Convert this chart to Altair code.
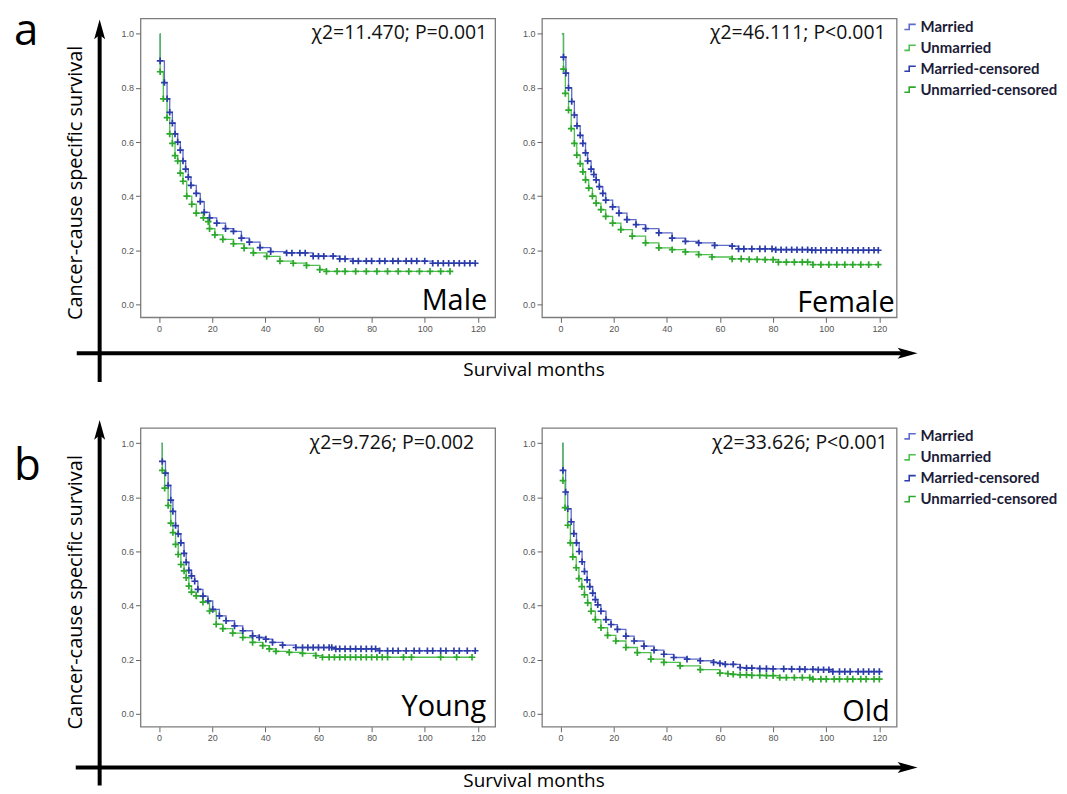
import altair as alt
import pandas as pd

# ---------------- data ----------------
SERIES = ["Married", "Unmarried", "Married-censored", "Unmarried-censored"]
COLORS = ["#5d6bc9", "#4fc04f", "#2b3ba9", "#2ca82c"]
PANEL_NAMES = ["Male", "Female", "Young", "Old"]
PANEL_STATS = ["χ2=11.470; P=0.001", "χ2=46.111; P<0.001", "χ2=9.726; P=0.002", "χ2=33.626; P<0.001"]
ROW_LETTERS = ["a", "b"]
Y_TITLE = "Cancer-cause specific survival"
X_TITLE = "Survival months"
X_TICKS = [0, 20, 40, 60, 80, 100, 120]
Y_TICKS = [0.0, 0.2, 0.4, 0.6, 0.8, 1.0]

male_married_months = [0.3, 0.4, 2, 3, 4, 5, 6, 7, 8, 9, 10, 11, 12, 14, 15.5, 17, 19, 21.7, 25, 28,
                       31, 34, 38, 42,
                       48, 50, 53, 55, 58, 60, 62, 65.5, 68, 70,
                       73, 75, 78, 80, 83, 85, 88, 90, 93, 95, 97, 100,
                       103, 105, 107, 109, 111, 113, 115, 117, 119]
male_married_surv = [1.0, 0.90, 0.82, 0.76, 0.71, 0.67, 0.63, 0.60, 0.57, 0.53, 0.50, 0.47, 0.44, 0.41, 0.38, 0.34,
                     0.32, 0.30, 0.28, 0.27, 0.245, 0.23, 0.21, 0.195,
                     0.19, 0.19, 0.19, 0.19, 0.178, 0.178, 0.178, 0.178, 0.168, 0.168,
                     0.16, 0.16, 0.16, 0.16, 0.16, 0.16, 0.16, 0.16, 0.16, 0.16, 0.16, 0.16,
                     0.152, 0.152, 0.152, 0.152, 0.152, 0.152, 0.152, 0.152, 0.152]
male_unmarried_months = [0.3, 0.4, 1.6, 3, 4, 5, 6, 7, 8, 9, 10.4, 12.3, 14, 16.7, 18.5, 19, 21, 24, 28, 32,
                         35.5, 40.5, 45.5, 50.5, 55.5, 60.5,
                         63, 67, 70, 74, 78, 82, 86, 90, 94, 98, 102, 106, 109.5]
male_unmarried_surv = [1.0, 0.86, 0.76, 0.69, 0.63, 0.595, 0.55, 0.53, 0.485, 0.455, 0.40, 0.37, 0.337, 0.32,
                       0.306, 0.28, 0.257, 0.24, 0.224, 0.208, 0.19, 0.177, 0.16, 0.152, 0.144, 0.128,
                       0.122, 0.122, 0.122, 0.122, 0.122, 0.122, 0.122, 0.122, 0.122, 0.122, 0.122, 0.122, 0.122]

female_married_months = [0.5, 1.1, 2, 3, 4.2, 5.2, 6.2, 7.4, 8.4, 9.4, 10.2, 11.5, 12.5, 13.4, 14.6, 15.9, 17,
                         19.6, 22, 25, 28.4, 32, 37, 42, 47, 52, 58,
                         64.6, 67, 69, 72, 75, 77, 79.6,
                         81, 83, 85, 87, 89, 91, 93,
                         94.6, 96, 98, 100, 102, 104, 106, 108, 110, 112, 114, 116, 118, 119.6]
female_married_surv = [1.0, 0.914, 0.855, 0.80, 0.75, 0.70, 0.66, 0.625, 0.595, 0.56, 0.53, 0.50, 0.48, 0.46,
                       0.435, 0.41, 0.385, 0.36, 0.337, 0.313, 0.295, 0.28, 0.264, 0.245, 0.233, 0.227, 0.218,
                       0.215, 0.205, 0.205, 0.205, 0.205, 0.205, 0.205,
                       0.202, 0.202, 0.202, 0.202, 0.202, 0.202, 0.202,
                       0.20, 0.20, 0.20, 0.20, 0.20, 0.20, 0.20, 0.20, 0.20, 0.20, 0.20, 0.20, 0.20, 0.20]
female_unmarried_months = [0.5, 1.1, 1.8, 3, 4, 5.2, 6.1, 7.4, 8.4, 9.4, 10.6, 12, 13.4, 15.2, 17, 19.6, 22.7,
                           27, 32, 37, 42, 47, 52, 57,
                           64.6, 68, 71, 74, 77, 80, 82, 85, 88, 91, 93,
                           95, 98, 101, 104, 107, 110, 113, 116, 119.6]
female_unmarried_surv = [1.0, 0.87, 0.78, 0.718, 0.65, 0.595, 0.552, 0.52, 0.49, 0.46, 0.43, 0.40, 0.374, 0.35,
                         0.325, 0.30, 0.276, 0.252, 0.227, 0.209, 0.202, 0.194, 0.184, 0.175,
                         0.168, 0.168, 0.166, 0.166, 0.165, 0.165, 0.156, 0.156, 0.156, 0.156, 0.156,
                         0.147, 0.147, 0.147, 0.147, 0.147, 0.147, 0.147, 0.147, 0.147]

young_married_months = [0.9, 1.2, 2.4, 3.4, 4.4, 5.2, 6.2, 7.2, 8.2, 9.4, 10.2, 11.2, 12.2, 13.4, 14.6, 16.5,
                        18.4, 20.2, 22.7, 25.2, 28.4, 31.5, 35.2, 37.7, 40.2, 42.7, 46.5, 51.5,
                        54, 56, 58, 60, 62, 64, 65,
                        66.5, 68, 70, 72, 74, 76, 78, 80, 81.5,
                        83, 86, 88, 90, 93, 96, 98, 101, 103, 106, 108, 111, 113, 116, 119]
young_married_surv = [1.0, 0.933, 0.89, 0.844, 0.79, 0.748, 0.696, 0.665, 0.632, 0.593, 0.56, 0.53, 0.51, 0.49,
                      0.46, 0.435, 0.417, 0.386, 0.362, 0.344, 0.325, 0.307, 0.288, 0.282, 0.276, 0.264, 0.254,
                      0.245,
                      0.245, 0.245, 0.245, 0.245, 0.245, 0.245, 0.245,
                      0.24, 0.24, 0.24, 0.24, 0.24, 0.24, 0.24, 0.24, 0.24,
                      0.233, 0.233, 0.233, 0.233, 0.233, 0.233, 0.233, 0.233, 0.233, 0.233, 0.233, 0.233, 0.233,
                      0.233, 0.233]
young_unmarried_months = [0.9, 1.2, 2.1, 3.4, 4.4, 5.2, 6.2, 7.2, 8.2, 9.4, 10.2, 11.2, 12.2, 14, 16.5, 19,
                          21.5, 24, 27.7, 31.5, 35.2, 39, 41.5, 44, 49, 54, 59,
                          61.5, 64, 66, 68, 70, 72, 74, 76, 78, 80, 82, 84, 86, 92, 95, 106, 112, 117.8]
young_unmarried_surv = [1.0, 0.90, 0.834, 0.77, 0.705, 0.67, 0.626, 0.589, 0.552, 0.528, 0.503, 0.472, 0.45,
                        0.436, 0.413, 0.38, 0.331, 0.315, 0.298, 0.282, 0.264, 0.252, 0.24, 0.231, 0.227, 0.223,
                        0.215,
                        0.209, 0.209, 0.209, 0.209, 0.209, 0.209, 0.209, 0.209, 0.209, 0.209, 0.209, 0.209,
                        0.209, 0.209, 0.209, 0.209, 0.209, 0.209]

old_married_months = [0.6, 0.9, 1.9, 2.7, 4, 5, 6, 7, 8.1, 9, 10, 11, 12.1, 13.1, 14, 15.2, 17.1, 19, 21.4,
                      24.6, 27.7, 31.4, 35.2, 38.9, 42.6, 47.6, 52.6,
                      57.6, 60, 62, 65, 67.6, 70, 72, 75, 77.5, 80, 84, 87, 90, 92, 95, 97, 99, 101,
                      102.5, 105, 107, 109, 112, 114, 116, 118, 120]
old_married_surv = [1.0, 0.90, 0.82, 0.758, 0.71, 0.666, 0.632, 0.60, 0.562, 0.526, 0.495, 0.47, 0.446, 0.422,
                    0.403, 0.379, 0.348, 0.33, 0.312, 0.287, 0.269, 0.25, 0.235, 0.22, 0.208, 0.202, 0.196,
                    0.19, 0.186, 0.183, 0.183, 0.171, 0.169, 0.169, 0.167, 0.167, 0.166, 0.166, 0.165, 0.165,
                    0.164, 0.164, 0.163, 0.163, 0.163,
                    0.156, 0.156, 0.156, 0.156, 0.156, 0.156, 0.156, 0.156, 0.156]
old_unmarried_months = [0.6, 0.9, 1.7, 2.7, 3.7, 4.6, 5.9, 6.9, 8, 9, 10.2, 11.5, 13.1, 15.2, 17.7, 20.8, 24.6,
                        28.9, 34, 38.9, 45, 52.6,
                        60, 63, 65, 67.6, 70, 72, 75, 77.5, 80, 82.5, 85, 88, 91, 93.8,
                        95, 98, 100, 103, 105, 108, 110, 113, 115, 118, 120]
old_unmarried_surv = [1.0, 0.862, 0.762, 0.697, 0.632, 0.58, 0.54, 0.50, 0.47, 0.44, 0.41, 0.379, 0.348, 0.318,
                      0.29, 0.269, 0.245, 0.226, 0.202, 0.19, 0.177, 0.163,
                      0.15, 0.148, 0.146, 0.144, 0.144, 0.142, 0.142, 0.141, 0.141, 0.134, 0.134, 0.134, 0.134,
                      0.134,
                      0.128, 0.128, 0.128, 0.128, 0.128, 0.128, 0.128, 0.128, 0.128, 0.128, 0.128]

PANEL_DATA = [
    (male_married_months, male_married_surv, male_unmarried_months, male_unmarried_surv),
    (female_married_months, female_married_surv, female_unmarried_months, female_unmarried_surv),
    (young_married_months, young_married_surv, young_unmarried_months, young_unmarried_surv),
    (old_married_months, old_married_surv, old_unmarried_months, old_unmarried_surv),
]

# ---------------- layout constants ----------------
PW, PH = 356, 300
LW = 85
PLUS = "M-1,0L1,0M0,-1L0,1"
STEP_ICON = "M-1,0.45L-0.15,0.45L-0.15,-0.45L1,-0.45"
UP_HEAD = "M0,-1L-0.55,1L0,0.55L0.55,1Z"
RIGHT_HEAD = "M1,0L-1,-0.55L-0.55,0L-1,0.55Z"
FONT = "Open Sans"
LEG_FONT = "Lato"
ONE = pd.DataFrame({"k": [0]})


def panel(idx, with_legend, name_x, name_y, stat_x):
    mm, ms, um, us = PANEL_DATA[idx]
    line_df = pd.DataFrame({
        "month": list(mm) + list(um),
        "surv": list(ms) + list(us),
        "series": [SERIES[0]] * len(mm) + [SERIES[1]] * len(um),
    })
    cens_df = pd.DataFrame({
        "month": list(mm[1:]) + list(um[1:]),
        "surv": list(ms[1:]) + list(us[1:]),
        "series": [SERIES[2]] * (len(mm) - 1) + [SERIES[3]] * (len(um) - 1),
    })
    xs = alt.Scale(domain=[-7, 126.5], nice=False, zero=False)
    ys = alt.Scale(domain=[-0.048, 1.057], nice=False, zero=False)
    xax = alt.Axis(values=X_TICKS, title=None, grid=False, domain=False, tickSize=5, tickColor="#666",
                   labelFontSize=9, labelColor="#555", labelFont="Liberation Sans", labelPadding=2)
    yax = alt.Axis(values=Y_TICKS, format=".1f", title=None, grid=False, domain=False, tickSize=5,
                   tickColor="#666", labelFontSize=9, labelColor="#555", labelFont="Liberation Sans",
                   labelPadding=2)
    if with_legend:
        leg = alt.Legend(orient="none", legendX=PW + 6, legendY=1, title=None, symbolType=STEP_ICON,
                         symbolSize=130, symbolStrokeWidth=1.6, symbolFillColor="transparent",
                         labelFont=LEG_FONT, labelFontWeight="bold", labelFontSize=15, labelColor="#1c1c38",
                         rowPadding=5, labelOffset=3, padding=0)
    else:
        leg = None
    color = alt.Color("series:N", scale=alt.Scale(domain=SERIES, range=COLORS), legend=leg)
    x = alt.X("month:Q", scale=xs, axis=xax)
    y = alt.Y("surv:Q", scale=ys, axis=yax)
    lines = alt.Chart(line_df).mark_line(interpolate="step-after", strokeWidth=1.3).encode(
        x=x, y=y, color=color)
    marks = alt.Chart(cens_df).mark_point(shape=PLUS, filled=False, size=44, strokeWidth=1.7, opacity=1).encode(
        x=x, y=y, color=color)
    stat = alt.Chart(ONE).mark_text(text=PANEL_STATS[idx], align="right", baseline="middle", fontSize=19.5,
                                    font=FONT, color="#111").encode(x=alt.value(stat_x), y=alt.value(15))
    name = alt.Chart(ONE).mark_text(text=PANEL_NAMES[idx], align="right", baseline="alphabetic", fontSize=29,
                                    font=FONT, color="#000").encode(x=alt.value(name_x), y=alt.value(name_y))
    return alt.layer(lines, marks, stat, name).properties(
        width=PW, height=PH, view=alt.ViewBackground(stroke="#7d7d7d", strokeWidth=1.3))


def left(letter, letter_y, tip_y, cross_y, bottom_y, hstart, title_y, xlabel_y):
    base = alt.Chart(ONE)
    vline = base.mark_rule(strokeWidth=4, color="black").encode(
        x=alt.value(91), y=alt.value(tip_y + 10), y2=alt.value(bottom_y))
    hline = base.mark_rule(strokeWidth=4, color="black").encode(
        x=alt.value(hstart), x2=alt.value(900), y=alt.value(cross_y))
    up = base.mark_point(shape=UP_HEAD, filled=True, size=400, color="black", opacity=1).encode(
        x=alt.value(91), y=alt.value(tip_y + 10))
    right = base.mark_point(shape=RIGHT_HEAD, filled=True, size=400, color="black", opacity=1).encode(
        x=alt.value(902), y=alt.value(cross_y))
    let = base.mark_text(text=letter, fontSize=44, font=FONT, align="left", baseline="alphabetic",
                         color="black").encode(x=alt.value(5), y=alt.value(letter_y))
    yt = base.mark_text(text=Y_TITLE, angle=270, fontSize=20, font=FONT, align="center", baseline="middle",
                        color="black").encode(x=alt.value(67), y=alt.value(title_y))
    xt = base.mark_text(text=X_TITLE, fontSize=19, font=FONT, align="center", baseline="middle",
                        color="black").encode(x=alt.value(527), y=alt.value(xlabel_y))
    return alt.layer(vline, hline, up, right, let, yt, xt).properties(
        width=LW, height=PH, view=alt.ViewBackground(stroke="transparent"))


leftA = left(ROW_LETTERS[0], 27, 1, 336, 365, 68, 165, 353)
leftB = left(ROW_LETTERS[1], 52, -8, 341, 359, 67, 165, 354)
p1 = panel(0, False, 348, 293, 348)
p2 = panel(1, True, 354, 295, 345)
p3 = panel(2, False, 347, 289, 335)
p4 = panel(3, True, 349, 294, 347)

chart = alt.concat(leftA, p1, p2, leftB, p3, p4, columns=3, bounds="flush",
                   spacing=alt.RowColnumber(row=111, column=47)).resolve_scale(
    color="independent").properties(padding=0, background="white")

chart.save("out.html", embed_options={"renderer": "svg", "actions": False})
